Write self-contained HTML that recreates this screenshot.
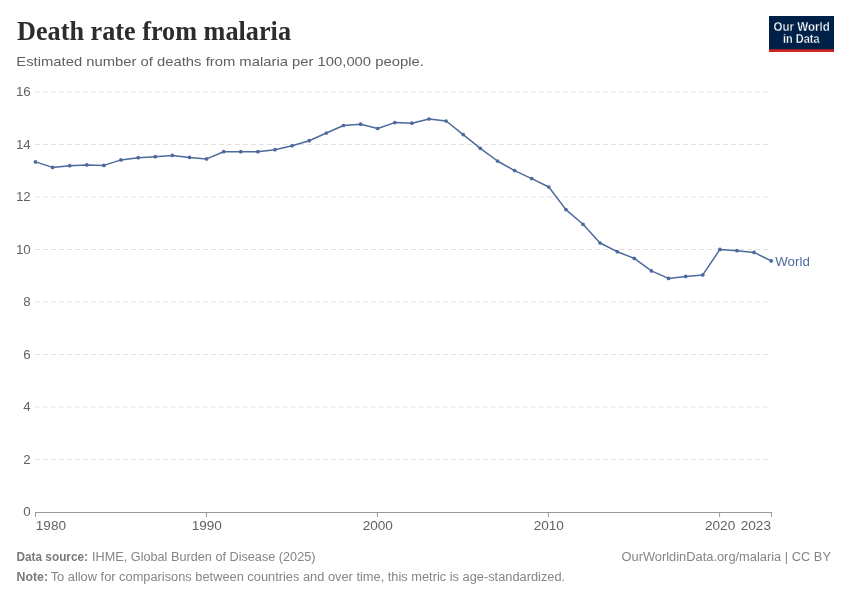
<!DOCTYPE html>
<html><head><meta charset="utf-8"><title>Death rate from malaria</title>
<style>
html,body{margin:0;padding:0;background:#fff;}
body{width:850px;height:600px;overflow:hidden;font-family:"Liberation Sans",sans-serif;}
svg{display:block;}
text{font-family:"Liberation Sans",sans-serif;}
.ttl{font-family:"Liberation Serif",serif;}
</style></head><body>
<svg width="850" height="600" viewBox="0 0 850 600">
<rect width="850" height="600" fill="#fff"/>
<text id="t_title" class="ttl" x="17" y="39.8" font-weight="bold" font-size="27" fill="#2d2d2d" textLength="274" lengthAdjust="spacingAndGlyphs">Death rate from malaria</text>
<text id="t_sub" x="16.3" y="66.3" font-size="13.5" fill="#5f5f5f" textLength="407.5" lengthAdjust="spacingAndGlyphs">Estimated number of deaths from malaria per 100,000 people.</text>
<g>
<rect x="769" y="16" width="65" height="36" fill="#002147"/>
<rect x="769" y="49.3" width="65" height="2.7" fill="#ce261e"/>
<text id="t_l1" x="773.5" y="30.7" font-size="11.9" font-weight="bold" fill="#fff" stroke="#002147" stroke-width="0.3" textLength="56.2" lengthAdjust="spacingAndGlyphs">Our World</text>
<text id="t_l2" x="783" y="42.7" font-size="11.9" font-weight="bold" fill="#fff" stroke="#002147" stroke-width="0.3" textLength="36.5" lengthAdjust="spacingAndGlyphs">in Data</text>
</g>
<g stroke="#e0e0e0" stroke-width="1" stroke-dasharray="4.6,3.4" fill="none"><line x1="35.2" x2="771" y1="459.50" y2="459.50"/><line x1="35.2" x2="771" y1="407.00" y2="407.00"/><line x1="35.2" x2="771" y1="354.50" y2="354.50"/><line x1="35.2" x2="771" y1="302.00" y2="302.00"/><line x1="35.2" x2="771" y1="249.50" y2="249.50"/><line x1="35.2" x2="771" y1="197.00" y2="197.00"/><line x1="35.2" x2="771" y1="144.50" y2="144.50"/><line x1="35.2" x2="771" y1="92.00" y2="92.00"/></g>
<g stroke="#999" stroke-width="1" fill="none"><line x1="35" x2="772" y1="512.5" y2="512.5"/><line x1="35.5" x2="35.5" y1="512" y2="517"/><line x1="206.4" x2="206.4" y1="512" y2="517"/><line x1="377.4" x2="377.4" y1="512" y2="517"/><line x1="548.4" x2="548.4" y1="512" y2="517"/><line x1="719.6" x2="719.6" y1="512" y2="517"/><line x1="771.5" x2="771.5" y1="512" y2="517"/></g>
<g font-size="13.3" fill="#626262"><text x="30.7" y="516.20" text-anchor="end">0</text><text x="30.7" y="463.70" text-anchor="end">2</text><text x="30.7" y="411.20" text-anchor="end">4</text><text x="30.7" y="358.70" text-anchor="end">6</text><text x="30.7" y="306.20" text-anchor="end">8</text><text x="30.7" y="253.70" text-anchor="end">10</text><text x="30.7" y="201.20" text-anchor="end">12</text><text x="30.7" y="148.70" text-anchor="end">14</text><text x="30.7" y="96.20" text-anchor="end">16</text></g><g font-size="13.6" fill="#626262"><text x="35.8" y="530.2" text-anchor="start">1980</text><text x="206.8" y="530.2" text-anchor="middle">1990</text><text x="377.8" y="530.2" text-anchor="middle">2000</text><text x="548.8" y="530.2" text-anchor="middle">2010</text><text x="720.1" y="530.2" text-anchor="middle">2020</text><text x="771.0" y="530.2" text-anchor="end">2023</text></g>
<polyline points="35.5,161.9 52.6,167.4 69.7,165.7 86.8,164.9 103.9,165.4 121.0,159.9 138.2,157.7 155.3,156.7 172.4,155.4 189.5,157.4 206.6,158.9 223.7,151.7 240.8,151.7 257.9,151.7 275.0,149.7 292.1,145.7 309.2,140.7 326.4,133.0 343.5,125.5 360.6,124.2 377.7,128.5 394.8,122.6 411.9,123.2 429.0,119.0 446.1,121.0 463.2,134.6 480.3,148.3 497.5,161.0 514.6,170.6 531.7,178.6 548.8,187.0 565.9,209.6 583.0,224.3 600.1,243.0 617.2,251.7 634.3,258.4 651.4,270.9 668.5,278.4 685.7,276.4 702.8,274.9 719.9,249.4 737.0,250.7 754.1,252.4 771.2,260.9" fill="none" stroke="#4c6a9c" stroke-width="1.5" stroke-linejoin="round"/>
<g fill="#4c6a9c"><circle cx="35.5" cy="161.9" r="1.85"/><circle cx="52.6" cy="167.4" r="1.85"/><circle cx="69.7" cy="165.7" r="1.85"/><circle cx="86.8" cy="164.9" r="1.85"/><circle cx="103.9" cy="165.4" r="1.85"/><circle cx="121.0" cy="159.9" r="1.85"/><circle cx="138.2" cy="157.7" r="1.85"/><circle cx="155.3" cy="156.7" r="1.85"/><circle cx="172.4" cy="155.4" r="1.85"/><circle cx="189.5" cy="157.4" r="1.85"/><circle cx="206.6" cy="158.9" r="1.85"/><circle cx="223.7" cy="151.7" r="1.85"/><circle cx="240.8" cy="151.7" r="1.85"/><circle cx="257.9" cy="151.7" r="1.85"/><circle cx="275.0" cy="149.7" r="1.85"/><circle cx="292.1" cy="145.7" r="1.85"/><circle cx="309.2" cy="140.7" r="1.85"/><circle cx="326.4" cy="133.0" r="1.85"/><circle cx="343.5" cy="125.5" r="1.85"/><circle cx="360.6" cy="124.2" r="1.85"/><circle cx="377.7" cy="128.5" r="1.85"/><circle cx="394.8" cy="122.6" r="1.85"/><circle cx="411.9" cy="123.2" r="1.85"/><circle cx="429.0" cy="119.0" r="1.85"/><circle cx="446.1" cy="121.0" r="1.85"/><circle cx="463.2" cy="134.6" r="1.85"/><circle cx="480.3" cy="148.3" r="1.85"/><circle cx="497.5" cy="161.0" r="1.85"/><circle cx="514.6" cy="170.6" r="1.85"/><circle cx="531.7" cy="178.6" r="1.85"/><circle cx="548.8" cy="187.0" r="1.85"/><circle cx="565.9" cy="209.6" r="1.85"/><circle cx="583.0" cy="224.3" r="1.85"/><circle cx="600.1" cy="243.0" r="1.85"/><circle cx="617.2" cy="251.7" r="1.85"/><circle cx="634.3" cy="258.4" r="1.85"/><circle cx="651.4" cy="270.9" r="1.85"/><circle cx="668.5" cy="278.4" r="1.85"/><circle cx="685.7" cy="276.4" r="1.85"/><circle cx="702.8" cy="274.9" r="1.85"/><circle cx="719.9" cy="249.4" r="1.85"/><circle cx="737.0" cy="250.7" r="1.85"/><circle cx="754.1" cy="252.4" r="1.85"/><circle cx="771.2" cy="260.9" r="1.85"/></g>
<text id="t_world" x="775.3" y="266" font-size="12.4" fill="#4c6a9c" textLength="34.5" lengthAdjust="spacingAndGlyphs">World</text>
<g font-size="12" fill="#858585">
<text id="t_f1" x="16.5" y="560.5" font-weight="bold" fill="#7a7a7a" textLength="71.5" lengthAdjust="spacingAndGlyphs">Data source:</text>
<text id="t_f2" x="92" y="560.5" textLength="223.5" lengthAdjust="spacingAndGlyphs">IHME, Global Burden of Disease (2025)</text>
<text id="t_f3" x="621.5" y="560.5" textLength="209.5" lengthAdjust="spacingAndGlyphs">OurWorldinData.org/malaria | CC BY</text>
<text id="t_f4" x="16.5" y="581" font-weight="bold" fill="#7a7a7a" textLength="31.5" lengthAdjust="spacingAndGlyphs">Note:</text>
<text id="t_f5" x="50.7" y="581" textLength="514.5" lengthAdjust="spacingAndGlyphs">To allow for comparisons between countries and over time, this metric is age-standardized.</text>
</g>
</svg>
</body></html>
